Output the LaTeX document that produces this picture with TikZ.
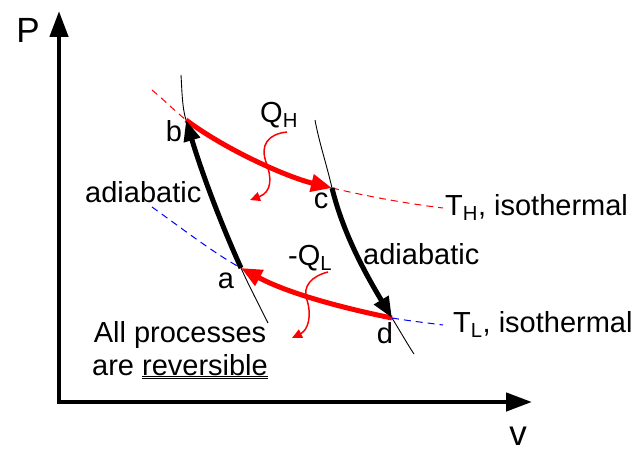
\documentclass[tikz,border=0pt]{standalone}
\usepackage{fontspec}
\setmainfont{Liberation Sans}
\usetikzlibrary{arrows.meta}
\begin{document}
\begin{tikzpicture}[x=1pt,y=-1pt,
  lbl/.style={font=\fontsize{29}{31}\selectfont, inner sep=0pt},
  biglbl/.style={font=\fontsize{35}{38}\selectfont, inner sep=0pt},
  axis/.style={line width=4.5pt, -{Triangle[length=26pt,width=18pt]}},
  thin/.style={line width=0.9pt, black},
  hotiso/.style={line width=1pt, red, dash pattern=on 7pt off 5pt},
  coldiso/.style={line width=1pt, blue, dash pattern=on 7pt off 5pt},
  adiab/.style={line width=5pt, black, -{Triangle[length=21pt,width=16pt]}},
  heat/.style={line width=5pt, red, -{Triangle[length=21pt,width=17pt]}},
  squig/.style={line width=1.5pt, red, -{Triangle[length=10pt,width=9pt]}}]
\useasboundingbox (0,0) rectangle (635,452);
\fill[white] (0,0) rectangle (635,452);
% origin and axis ends
\coordinate (o) at (59,402);
\coordinate (ptop) at (59,11);
\coordinate (vend) at (532,402);
\draw[axis] (o) -- (ptop);
\draw[axis] (57,402) -- (vend);
\node[biglbl, anchor=base] (P) at (28,43) {P};
\node[biglbl, anchor=base] (v) at (518,445) {v};
% state points
\coordinate (b) at (186,120);
\coordinate (c) at (332,188);
\coordinate (a) at (241,268);
\coordinate (d) at (392,318);
\coordinate (lt) at (181,75);
\coordinate (lb0) at (268,323);
\coordinate (rt) at (315,120);
\coordinate (rb) at (414,354);
\coordinate (ht) at (152,90);
\coordinate (he) at (443,208);
\coordinate (ct) at (152,207);
\coordinate (ce) at (443,325);
% adiabats (thin)
\draw[thin] (lt) .. controls (182,90) and (182,107) .. (b)
  .. controls (201,170) and (218.5,218) .. (a)
  .. controls (249,286) and (259,305) .. (lb0);
\draw[thin] (rt) .. controls (319,142) and (327,166) .. (c)
  .. controls (343,233) and (365,273) .. (d)
  .. controls (403,336) and (408,345) .. (rb);
% isotherms (dashed)
\draw[hotiso] (ht) .. controls (164,100) and (175,111) .. (b);
\draw[hotiso] (c) .. controls (370,197) and (410,204) .. (he);
\draw[coldiso] (ct) .. controls (180,227) and (215,254) .. (a);
\draw[coldiso] (d) .. controls (410,321) and (428,323) .. (ce);
% process arrows
\draw[heat] (b) .. controls (226,150) and (287,177) .. (c);
\draw[heat] (d) .. controls (352,310) and (291,295) .. (a);
\draw[adiab] (a) .. controls (218.5,218) and (201,170) .. (b);
\draw[adiab] (c) .. controls (343,233) and (365,273) .. (d);
% heat squiggles
\draw[squig] (287,132) .. controls (268,134) and (260,145) .. (266,162)
  .. controls (272,178) and (272,192) .. (250,200);
\draw[squig] (328,272) .. controls (312,276) and (302,286) .. (307,300)
  .. controls (312,316) and (308,330) .. (292,338);
% labels
\node[lbl, anchor=base] (lb) at (174,142) {b};
\node[lbl, anchor=base] (lc) at (321,208) {c};
\node[lbl, anchor=base] (la) at (226,288) {a};
\node[lbl, anchor=base] (ld) at (385,343) {d};
\node[lbl, anchor=base west] (QH) at (260,122) {Q\textsubscript{H}};
\node[lbl, anchor=base west] (QL) at (288,265) {-Q\textsubscript{L}};
\node[lbl, anchor=base west] (ad1) at (85,202) {adiabatic};
\node[lbl, anchor=base west] (ad2) at (363,264) {adiabatic};
\node[lbl, anchor=base west] (TH) at (445,215) {T\textsubscript{H}, isothermal};
\node[lbl, anchor=base west] (TL) at (453,332) {T\textsubscript{L}, isothermal};
\node[lbl, anchor=base] (all) at (180,342) {All processes};
\node[lbl, anchor=base] (rev) at (180,375) {are \underline{\underline{reversible}}};
\end{tikzpicture}
\end{document}
